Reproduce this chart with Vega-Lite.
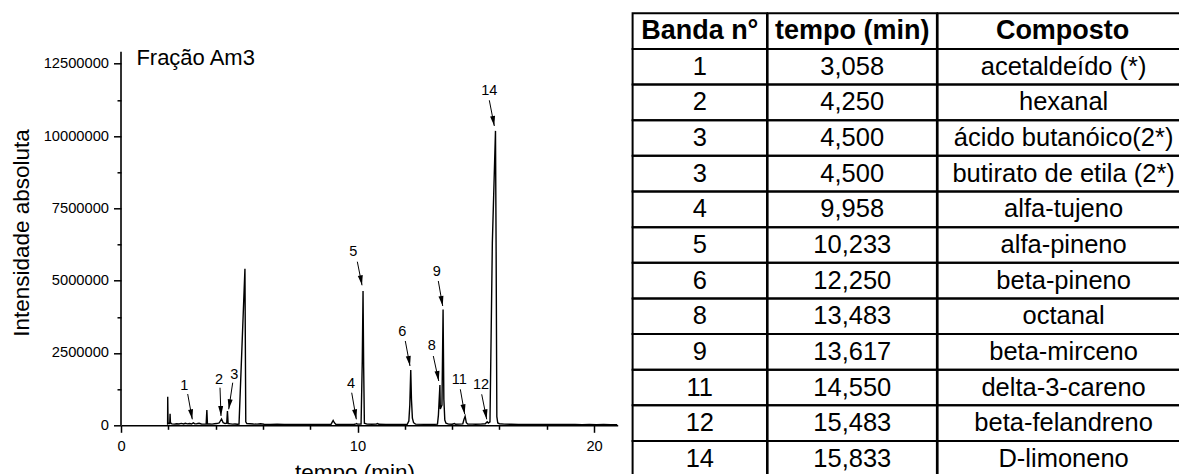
{
  "$schema": "https://vega.github.io/schema/vega-lite/v6.json",
  "background": "white",
  "padding": {"left": 10, "top": 11.3, "right": 0, "bottom": 0},
  "bounds": "flush",
  "spacing": 14.6,
  "config": {
    "font": "Liberation Sans",
    "view": {"stroke": null},
    "axis": {
      "grid": false,
      "labelColor": "black",
      "titleColor": "black",
      "tickColor": "black",
      "domainColor": "black",
      "labelFont": "Liberation Sans",
      "titleFont": "Liberation Sans",
      "titleFontWeight": "normal",
      "domainWidth": 1.6,
      "tickWidth": 1.5
    }
  },
  "datasets": {
    "cromatograma": [
      {"t": 1.97, "v": 20000}, {"t": 1.975, "v": 990000}, {"t": 1.99, "v": 90000}, {"t": 2.03, "v": 60000},
      {"t": 2.06, "v": 60000}, {"t": 2.075, "v": 400000}, {"t": 2.09, "v": 90000}, {"t": 2.15, "v": 50000},
      {"t": 2.25, "v": 40000}, {"t": 2.35, "v": 55000}, {"t": 2.45, "v": 45000}, {"t": 2.55, "v": 65000},
      {"t": 2.65, "v": 45000}, {"t": 2.72, "v": 70000}, {"t": 2.8, "v": 50000}, {"t": 2.9, "v": 60000},
      {"t": 2.98, "v": 45000}, {"t": 3.058, "v": 85000}, {"t": 3.12, "v": 50000}, {"t": 3.2, "v": 55000},
      {"t": 3.3, "v": 70000}, {"t": 3.4, "v": 45000}, {"t": 3.5, "v": 40000}, {"t": 3.6, "v": 45000},
      {"t": 3.63, "v": 530000}, {"t": 3.655, "v": 50000}, {"t": 3.75, "v": 45000}, {"t": 3.85, "v": 40000},
      {"t": 3.95, "v": 55000}, {"t": 4.05, "v": 60000}, {"t": 4.15, "v": 80000}, {"t": 4.25, "v": 220000},
      {"t": 4.32, "v": 90000}, {"t": 4.4, "v": 60000}, {"t": 4.47, "v": 70000}, {"t": 4.5, "v": 495000},
      {"t": 4.53, "v": 60000}, {"t": 4.62, "v": 50000}, {"t": 4.72, "v": 40000}, {"t": 4.82, "v": 45000},
      {"t": 4.92, "v": 35000}, {"t": 4.99, "v": 40000}, {"t": 5.24, "v": 5415000}, {"t": 5.275, "v": 120000},
      {"t": 5.32, "v": 60000}, {"t": 5.45, "v": 55000}, {"t": 5.6, "v": 45000}, {"t": 5.75, "v": 40000},
      {"t": 5.9, "v": 55000}, {"t": 6.05, "v": 35000}, {"t": 6.3, "v": 30000}, {"t": 6.6, "v": 35000},
      {"t": 6.9, "v": 28000}, {"t": 7.2, "v": 32000}, {"t": 7.5, "v": 28000}, {"t": 7.8, "v": 30000},
      {"t": 8.1, "v": 28000}, {"t": 8.4, "v": 30000}, {"t": 8.7, "v": 28000}, {"t": 8.88, "v": 30000},
      {"t": 8.93, "v": 110000}, {"t": 8.97, "v": 170000}, {"t": 9.02, "v": 90000}, {"t": 9.08, "v": 35000},
      {"t": 9.3, "v": 30000}, {"t": 9.6, "v": 32000}, {"t": 9.85, "v": 30000}, {"t": 9.93, "v": 50000},
      {"t": 9.958, "v": 60000}, {"t": 9.99, "v": 40000}, {"t": 10.15, "v": 40000}, {"t": 10.2, "v": 2200000},
      {"t": 10.233, "v": 4644000}, {"t": 10.26, "v": 2000000}, {"t": 10.29, "v": 70000}, {"t": 10.4, "v": 40000},
      {"t": 10.6, "v": 35000}, {"t": 10.8, "v": 45000}, {"t": 10.85, "v": 60000}, {"t": 10.9, "v": 35000},
      {"t": 11.2, "v": 30000}, {"t": 11.5, "v": 32000}, {"t": 11.8, "v": 30000}, {"t": 12.1, "v": 35000},
      {"t": 12.17, "v": 150000}, {"t": 12.21, "v": 700000}, {"t": 12.25, "v": 1912000}, {"t": 12.28, "v": 900000},
      {"t": 12.32, "v": 250000}, {"t": 12.37, "v": 90000}, {"t": 12.45, "v": 40000}, {"t": 12.8, "v": 32000},
      {"t": 13.1, "v": 30000}, {"t": 13.38, "v": 40000}, {"t": 13.42, "v": 350000}, {"t": 13.483, "v": 1393000},
      {"t": 13.5, "v": 565000}, {"t": 13.57, "v": 700000}, {"t": 13.617, "v": 4000000}, {"t": 13.65, "v": 900000},
      {"t": 13.69, "v": 180000}, {"t": 13.74, "v": 70000}, {"t": 13.85, "v": 40000}, {"t": 14.0, "v": 35000},
      {"t": 14.1, "v": 60000}, {"t": 14.15, "v": 35000}, {"t": 14.3, "v": 40000}, {"t": 14.45, "v": 50000},
      {"t": 14.5, "v": 200000}, {"t": 14.55, "v": 310000}, {"t": 14.6, "v": 90000}, {"t": 14.66, "v": 45000},
      {"t": 14.85, "v": 40000}, {"t": 15.0, "v": 38000}, {"t": 15.2, "v": 40000}, {"t": 15.4, "v": 55000},
      {"t": 15.483, "v": 125000}, {"t": 15.53, "v": 80000}, {"t": 15.6, "v": 120000}, {"t": 15.7, "v": 6300000},
      {"t": 15.833, "v": 10180000}, {"t": 15.86, "v": 6000000}, {"t": 15.89, "v": 300000}, {"t": 15.93, "v": 80000},
      {"t": 16.0, "v": 55000}, {"t": 16.2, "v": 40000}, {"t": 16.5, "v": 35000}, {"t": 16.8, "v": 30000},
      {"t": 17.1, "v": 32000}, {"t": 17.4, "v": 28000}, {"t": 17.7, "v": 30000}, {"t": 18.0, "v": 28000},
      {"t": 18.3, "v": 26000}, {"t": 18.6, "v": 28000}, {"t": 18.9, "v": 25000}, {"t": 19.2, "v": 27000},
      {"t": 19.5, "v": 24000}, {"t": 19.8, "v": 26000}, {"t": 20.1, "v": 24000}, {"t": 20.4, "v": 25000},
      {"t": 20.7, "v": 23000}, {"t": 20.98, "v": 24000}
    ],
    "bandas": [
      {"rotulo": "1", "t_texto": 2.676, "v_texto": 1370000, "t_cauda": 2.82, "v_cauda": 1082000, "t_ponta": 3.014, "v_ponta": 207000},
      {"rotulo": "2", "t_texto": 4.143, "v_texto": 1566000, "t_cauda": 4.186, "v_cauda": 1300000, "t_ponta": 4.228, "v_ponta": 322000},
      {"rotulo": "3", "t_texto": 4.79, "v_texto": 1739000, "t_cauda": 4.723, "v_cauda": 1473000, "t_ponta": 4.554, "v_ponta": 553000},
      {"rotulo": "4", "t_texto": 9.725, "v_texto": 1418000, "t_cauda": 9.754, "v_cauda": 1127000, "t_ponta": 9.949, "v_ponta": 207000},
      {"rotulo": "5", "t_texto": 9.822, "v_texto": 5992000, "t_cauda": 9.991, "v_cauda": 5657000, "t_ponta": 10.19, "v_ponta": 4841000},
      {"rotulo": "6", "t_texto": 11.893, "v_texto": 3237000, "t_cauda": 12.02, "v_cauda": 2915000, "t_ponta": 12.219, "v_ponta": 2050000},
      {"rotulo": "8", "t_texto": 13.137, "v_texto": 2742000, "t_cauda": 13.204, "v_cauda": 2396000, "t_ponta": 13.433, "v_ponta": 1532000},
      {"rotulo": "9", "t_texto": 13.349, "v_texto": 5311000, "t_cauda": 13.415, "v_cauda": 4990000, "t_ponta": 13.601, "v_ponta": 4125000},
      {"rotulo": "11", "t_texto": 14.305, "v_texto": 1566000, "t_cauda": 14.346, "v_cauda": 1245000, "t_ponta": 14.532, "v_ponta": 380000},
      {"rotulo": "12", "t_texto": 15.221, "v_texto": 1393000, "t_cauda": 15.25, "v_cauda": 1072000, "t_ponta": 15.462, "v_ponta": 207000},
      {"rotulo": "14", "t_texto": 15.572, "v_texto": 11559000, "t_cauda": 15.572, "v_cauda": 11238000, "t_ponta": 15.783, "v_ponta": 10349000}
    ],
    "tabela": [
      {"linha": 0, "banda": "Banda n°", "tempo": "tempo (min)", "composto": "Composto"},
      {"linha": 1, "banda": "1", "tempo": "3,058", "composto": "acetaldeído (*)"},
      {"linha": 2, "banda": "2", "tempo": "4,250", "composto": "hexanal"},
      {"linha": 3, "banda": "3", "tempo": "4,500", "composto": "ácido butanóico(2*)"},
      {"linha": 4, "banda": "3", "tempo": "4,500", "composto": "butirato de etila (2*)"},
      {"linha": 5, "banda": "4", "tempo": "9,958", "composto": "alfa-tujeno"},
      {"linha": 6, "banda": "5", "tempo": "10,233", "composto": "alfa-pineno"},
      {"linha": 7, "banda": "6", "tempo": "12,250", "composto": "beta-pineno"},
      {"linha": 8, "banda": "8", "tempo": "13,483", "composto": "octanal"},
      {"linha": 9, "banda": "9", "tempo": "13,617", "composto": "beta-mirceno"},
      {"linha": 10, "banda": "11", "tempo": "14,550", "composto": "delta-3-careno"},
      {"linha": 11, "banda": "12", "tempo": "15,483", "composto": "beta-felandreno"},
      {"linha": 12, "banda": "14", "tempo": "15,833", "composto": "D-limoneno"}
    ]
  },
  "hconcat": [
    {
      "width": 496.7,
      "height": 412,
      "layer": [
        {
          "data": {"name": "cromatograma"},
          "mark": {"type": "line", "color": "black", "strokeWidth": 1.4},
          "encoding": {
            "x": {
              "field": "t", "type": "quantitative",
              "scale": {"domain": [0, 21], "nice": false, "zero": false},
              "axis": {
                "values": [0,1,2,3,4,5,6,7,8,9,10,11,12,13,14,15,16,17,18,19,20,21],
                "labelExpr": "datum.value % 5 === 0 ? datum.label : ''",
                "tickSize": {"condition": {"test": "datum.value % 5 === 0", "value": 7}, "value": 4},
                "labelFontSize": 14.7,
                "labelPadding": 6.5,
                "labelFlush": false,
                "labelOverlap": false,
                "title": "tempo (min)",
                "titleFontSize": 22.5,
                "titleX": 233.5,
                "titleY": 54.7,
                "titleAlign": "center",
                "titleBaseline": "alphabetic"
              }
            },
            "y": {
              "field": "v", "type": "quantitative",
              "scale": {"domain": [0, 14246000], "nice": false},
              "axis": {
                "values": [0,1250000,2500000,3750000,5000000,6250000,7500000,8750000,10000000,11250000,12500000],
                "format": "d",
                "labelExpr": "datum.value % 2500000 === 0 ? datum.label : ''",
                "tickSize": {"condition": {"test": "datum.value % 2500000 === 0", "value": 7.5}, "value": 4},
                "labelFontSize": 14.7,
                "labelPadding": 5,
                "labelOverlap": false,
                "domain": false,
                "title": "Intensidade absoluta",
                "titleFontSize": 22.5,
                "titleAngle": 270,
                "titleX": -92.7,
                "titleY": 219.2,
                "titleAlign": "center",
                "titleBaseline": "alphabetic"
              }
            }
          }
        },
        {
          "data": {"values": [{}]},
          "mark": {"type": "rule", "color": "black", "strokeWidth": 1.6},
          "encoding": {
            "x": {"datum": 0, "type": "quantitative"},
            "y": {"datum": 0, "type": "quantitative"},
            "y2": {"datum": 12920000}
          }
        },
        {
          "data": {"name": "bandas"},
          "mark": {"type": "rule", "color": "black", "strokeWidth": 1},
          "encoding": {
            "x": {"field": "t_cauda", "type": "quantitative"},
            "y": {"field": "v_cauda", "type": "quantitative"},
            "x2": {"field": "t_ponta"},
            "y2": {"field": "v_ponta"}
          }
        },
        {
          "data": {"name": "bandas"},
          "mark": {"type": "point", "shape": "M0,0L-0.5,-2L0.5,-2Z", "filled": true, "color": "black", "opacity": 1, "size": 100, "strokeWidth": 0},
          "encoding": {
            "x": {"field": "t_ponta", "type": "quantitative"},
            "y": {"field": "v_ponta", "type": "quantitative"},
            "angle": {
              "condition": [
                {"test": "datum.rotulo === '2'", "value": 358},
                {"test": "datum.rotulo === '3'", "value": 8.5}
              ],
              "value": 350
            }
          }
        },
        {
          "data": {"name": "bandas"},
          "mark": {"type": "text", "fontSize": 14.5, "color": "black", "align": "center", "baseline": "middle"},
          "encoding": {
            "x": {"field": "t_texto", "type": "quantitative"},
            "y": {"field": "v_texto", "type": "quantitative"},
            "text": {"field": "rotulo"}
          }
        },
        {
          "data": {"values": [{}]},
          "mark": {"type": "text", "text": "Fração Am3", "fontSize": 22, "color": "black", "align": "left", "baseline": "alphabetic"},
          "encoding": {
            "x": {"datum": 0.65, "type": "quantitative"},
            "y": {"datum": 12460000, "type": "quantitative"}
          }
        }
      ]
    },
    {
      "bounds": "flush",
      "spacing": 0,
      "hconcat": [
        {
          "width": 134.4,
          "height": 463.3,
          "data": {"name": "tabela"},
          "layer": [
            {
              "mark": {"type": "rect", "fillOpacity": 0, "stroke": "black", "strokeWidth": 2},
              "encoding": {"y": {"field": "linha", "type": "ordinal", "axis": null, "scale": {"paddingInner": 0, "paddingOuter": 0}}}
            },
            {
              "transform": [{"filter": "datum.linha === 0"}],
              "mark": {"type": "text", "color": "black", "baseline": "middle", "fontWeight": "bold", "fontSize": 27},
              "encoding": {"y": {"field": "linha", "type": "ordinal", "axis": null}, "text": {"field": "banda"}}
            },
            {
              "transform": [{"filter": "datum.linha > 0"}],
              "mark": {"type": "text", "color": "black", "baseline": "middle", "fontSize": 25.5},
              "encoding": {"y": {"field": "linha", "type": "ordinal", "axis": null}, "text": {"field": "banda"}}
            }
          ]
        },
        {
          "width": 169.3,
          "height": 463.3,
          "data": {"name": "tabela"},
          "layer": [
            {
              "mark": {"type": "rect", "fillOpacity": 0, "stroke": "black", "strokeWidth": 2},
              "encoding": {"y": {"field": "linha", "type": "ordinal", "axis": null, "scale": {"paddingInner": 0, "paddingOuter": 0}}}
            },
            {
              "transform": [{"filter": "datum.linha === 0"}],
              "mark": {"type": "text", "color": "black", "baseline": "middle", "fontWeight": "bold", "fontSize": 27},
              "encoding": {"y": {"field": "linha", "type": "ordinal", "axis": null}, "text": {"field": "tempo"}}
            },
            {
              "transform": [{"filter": "datum.linha > 0"}],
              "mark": {"type": "text", "color": "black", "baseline": "middle", "fontSize": 25.5},
              "encoding": {"y": {"field": "linha", "type": "ordinal", "axis": null}, "text": {"field": "tempo"}}
            }
          ]
        },
        {
          "width": 262,
          "height": 463.3,
          "data": {"name": "tabela"},
          "layer": [
            {
              "mark": {"type": "rect", "fillOpacity": 0, "stroke": "black", "strokeWidth": 2},
              "encoding": {"y": {"field": "linha", "type": "ordinal", "axis": null, "scale": {"paddingInner": 0, "paddingOuter": 0}}}
            },
            {
              "transform": [{"filter": "datum.linha === 0"}],
              "mark": {"type": "text", "color": "black", "baseline": "middle", "fontWeight": "bold", "fontSize": 27, "dx": -6},
              "encoding": {"y": {"field": "linha", "type": "ordinal", "axis": null}, "text": {"field": "composto"}}
            },
            {
              "transform": [{"filter": "datum.linha > 0"}],
              "mark": {"type": "text", "color": "black", "baseline": "middle", "fontSize": 25.5, "dx": -5},
              "encoding": {"y": {"field": "linha", "type": "ordinal", "axis": null}, "text": {"field": "composto"}}
            }
          ]
        }
      ]
    }
  ]
}
